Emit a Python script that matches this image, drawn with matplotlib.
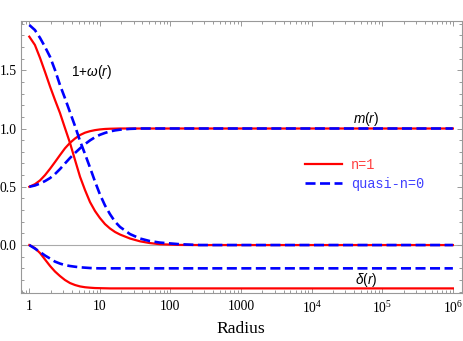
import matplotlib
matplotlib.use("Agg")
import matplotlib.pyplot as plt
from matplotlib.ticker import FixedLocator, FixedFormatter, MultipleLocator, LogLocator, NullFormatter

plt.rcParams['mathtext.fontset'] = 'custom'
plt.rcParams['mathtext.rm'] = 'Liberation Sans'
plt.rcParams['mathtext.it'] = 'Liberation Sans:italic'

# values (radius on a log axis)
radius = [1, 1.2, 1.42, 1.67, 1.97, 2.31, 2.72, 3.2, 3.77, 4.44, 5.23, 6.15, 7.24,
          8.52, 10.0, 11.8, 13.9, 16.4, 19.3, 26.7, 37, 51, 71, 136, 261, 1e6]

omega_n1 = [1.788, 1.717, 1.605, 1.485, 1.359, 1.245, 1.133, 1.004, 0.876, 0.730,
            0.586, 0.472, 0.369, 0.292, 0.232, 0.180, 0.142, 0.112, 0.090, 0.056,
            0.032, 0.017, 0.007, 0.001, 0.0, 0.0]
omega_q0 = [1.888, 1.845, 1.777, 1.700, 1.614, 1.502, 1.373, 1.260, 1.140, 1.021,
            0.893, 0.781, 0.665, 0.545, 0.435, 0.340, 0.265, 0.200, 0.155, 0.094,
            0.056, 0.034, 0.021, 0.007, 0.0, 0.0]
m_n1 = [0.500, 0.522, 0.555, 0.600, 0.655, 0.712, 0.772, 0.830, 0.877, 0.914,
        0.944, 0.964, 0.977, 0.986, 0.992, 0.996, 0.998, 0.999, 1.0, 1.0,
        1.0, 1.0, 1.0, 1.0, 1.0, 1.0]
m_q0 = [0.500, 0.511, 0.528, 0.549, 0.575, 0.609, 0.652, 0.700, 0.747, 0.790,
        0.830, 0.866, 0.898, 0.925, 0.946, 0.962, 0.975, 0.984, 0.990, 0.997,
        1.0, 1.0, 1.0, 1.0, 1.0, 1.0]
delta_n1 = [0.0, -0.026, -0.069, -0.124, -0.180, -0.227, -0.266, -0.300, -0.326, -0.343,
            -0.355, -0.362, -0.366, -0.369, -0.370, -0.371, -0.372, -0.372, -0.372, -0.372,
            -0.372, -0.372, -0.372, -0.372, -0.372, -0.372]
delta_q0 = [0.0, -0.030, -0.060, -0.090, -0.116, -0.142, -0.159, -0.172, -0.180, -0.186,
            -0.191, -0.194, -0.197, -0.199, -0.200, -0.200, -0.200, -0.200, -0.200, -0.200,
            -0.200, -0.200, -0.200, -0.200, -0.200, -0.200]

series_labels = ["n=1", "quasi-n=0"]
xtick_vals = [1, 10, 100, 1000, 1e4, 1e5, 1e6]
xtick_labels = ["1", "10", "100", "1000", r"$\mathregular{10^{4}}$",
                r"$\mathregular{10^{5}}$", r"$\mathregular{10^{6}}$"]
ytick_vals = [0.0, 0.5, 1.0, 1.5]

RED = "#ff0000"
BLUE = "#0000ff"
GRAY = "#999999"
SERIF = "Liberation Serif"

fig = plt.figure(figsize=(4.63, 3.41), dpi=100)
ax = fig.add_axes([0.0447, 0.1416, 0.9525, 0.7977])
ax.set_xscale("log")

ax.axhline(0, color="#aaaaaa", lw=0.8, zorder=1)

dash = (3.8, 1.7)
for ys in (omega_n1, m_n1, delta_n1):
    l_red, = ax.plot(radius, ys, color=RED, lw=1.6, zorder=2)
for ys in (omega_q0, m_q0, delta_q0):
    l_blue, = ax.plot(radius, ys, color=BLUE, lw=1.9, dashes=dash, zorder=3)

ax.set_xlim(10 ** -0.122, 10 ** 6.125)
ax.set_ylim(-0.409, 1.925)

# axes styling (Mathematica-like frame)
for sp in ax.spines.values():
    sp.set_color(GRAY)
    sp.set_linewidth(0.8)
ax.xaxis.set_major_locator(FixedLocator(xtick_vals))
ax.xaxis.set_major_formatter(FixedFormatter(xtick_labels))
ax.xaxis.set_minor_locator(LogLocator(base=10, subs=range(2, 10), numticks=20))
ax.xaxis.set_minor_formatter(NullFormatter())
ax.yaxis.set_major_locator(FixedLocator(ytick_vals))
ax.yaxis.set_minor_locator(MultipleLocator(0.1))
ax.yaxis.set_major_formatter(plt.FuncFormatter(lambda v, p: f"{v:.1f}"))
ax.tick_params(which="both", direction="in", top=True, right=True, color=GRAY, width=0.7)
ax.tick_params(which="major", length=3.6, labelsize=9.8, labelfontfamily=SERIF)
ax.tick_params(which="minor", length=2.0)
ax.tick_params(axis="x", which="major", pad=5)
ax.tick_params(axis="y", which="major", pad=3)

ax.set_xlabel("Radius", fontfamily=SERIF, fontsize=12.6, labelpad=4)

# curve labels
ax.text(7.48, 1.488, r"$1{+}\omega(r)$", fontsize=9.8, ha="center", va="center")
ax.text(59700, 1.082, r"$m(r)$", fontsize=9.8, ha="center", va="center")
ax.text(59400, -0.30, r"$\delta(r)$", fontsize=9.8, ha="center", va="center")

leg = ax.legend([l_red, l_blue], series_labels, loc="upper left",
                bbox_to_anchor=(0.629, 0.521), frameon=False, borderpad=0,
                handlelength=2.7, handletextpad=0.66, labelspacing=0.4,
                prop={"family": "Liberation Mono", "size": 9.8})
for t, c in zip(leg.get_texts(), ["#ff4040", "#4040ff"]):
    t.set_color(c)

fig.savefig("out.png", dpi=100)
